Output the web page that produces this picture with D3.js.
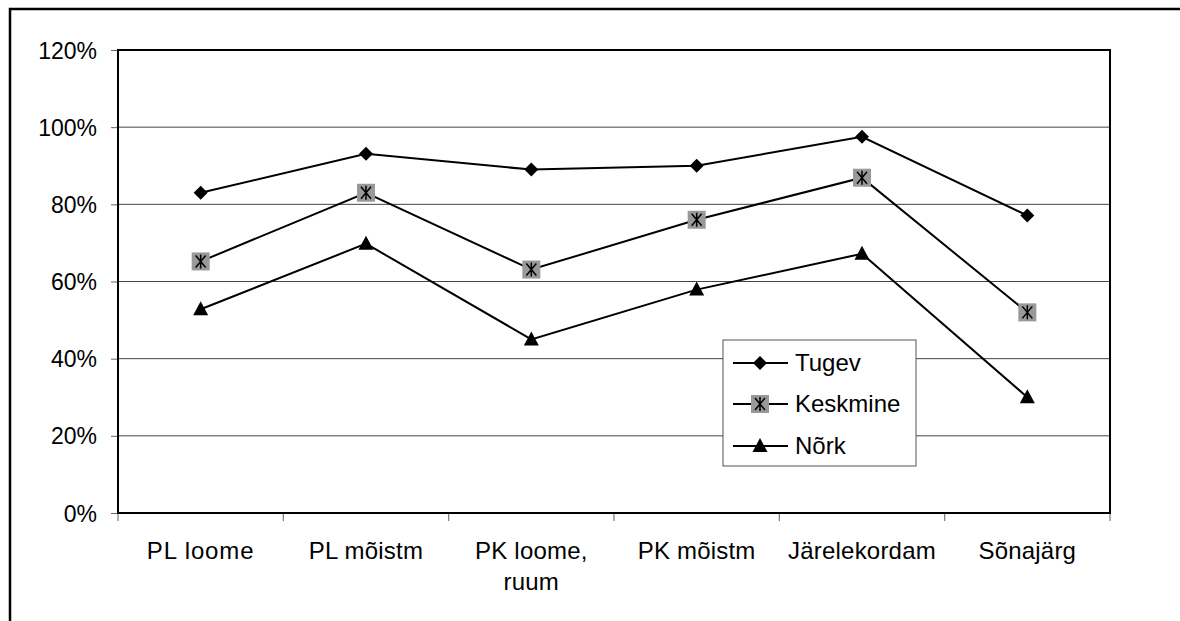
<!DOCTYPE html>
<html><head><meta charset="utf-8">
<script src="https://cdn.jsdelivr.net/npm/d3@7"></script>
<style>body{margin:0;background:#fff}svg{display:block}text{font-family:"Liberation Sans",Arial,sans-serif;fill:#000}</style>
</head><body><svg id="c" width="1180" height="621"></svg>
<script>
const categories = ["PL loome", "PL mõistm", "PK loome, ruum", "PK mõistm", "Järelekordam", "Sõnajärg"];
const categoryLines = [["PL loome"], ["PL mõistm"], ["PK loome,", "ruum"], ["PK mõistm"], ["Järelekordam"], ["Sõnajärg"]];
const seriesNames = ["Tugev", "Keskmine", "Nõrk"];
const tugev = [0.83, 0.931, 0.89, 0.90, 0.975, 0.771];
const keskmine = [0.652, 0.83, 0.631, 0.76, 0.869, 0.52];
const nork = [0.528, 0.698, 0.45, 0.579, 0.672, 0.30];
const yTicks = [0, 0.2, 0.4, 0.6, 0.8, 1.0, 1.2];

const svg = d3.select("#c");
const L = 118, R = 1110, T = 50, B = 513;
const x = d3.scaleBand().domain(categories).range([L, R]);
const y = d3.scaleLinear().domain([0, 1.2]).range([B, T]);
const FS = 23;

// outer border
svg.append("path").attr("d", `M10,621 L10,9 L1180,9`).attr("fill","none").attr("stroke","#000").attr("stroke-width",2.5);

// gridlines
svg.append("g").selectAll("line").data(yTicks.filter(d => d > 0 && d < 1.2)).join("line")
  .attr("x1", L).attr("x2", R).attr("y1", d => y(d)).attr("y2", d => y(d))
  .attr("stroke", "#444").attr("stroke-width", 1);

// y axis
const yAxis = svg.append("g").attr("transform", `translate(${L},0)`)
  .call(d3.axisLeft(y).tickValues(yTicks).tickFormat(d3.format(".0%")).tickSize(7).tickPadding(14));
yAxis.select(".domain").remove();
yAxis.selectAll(".tick line").attr("stroke", "#666").attr("stroke-width", 1);
yAxis.selectAll(".tick text").attr("font-size", FS).attr("font-family", '"Liberation Sans",Arial,sans-serif').attr("dy", "0.35em");

// x axis ticks
const xt = svg.append("g");
const boundaries = categories.map(c => x(c)).concat([R]);
xt.selectAll("line").data(boundaries).join("line")
  .attr("x1", d => d).attr("x2", d => d).attr("y1", B).attr("y2", B + 8)
  .attr("stroke", "#777").attr("stroke-width", 1.2);
// x labels
categoryLines.forEach((lines, i) => {
  const t = svg.append("text").attr("x", x(categories[i]) + x.bandwidth()/2).attr("y", 559)
    .attr("text-anchor", "middle").attr("font-size", 24).attr("letter-spacing", i===0?0.9:0.2);
  lines.forEach((ln, j) => t.append("tspan").attr("x", x(categories[i]) + x.bandwidth()/2).attr("dy", j ? 31 : 0).text(ln));
});

// plot frame
svg.append("path").attr("d", `M${L},${B} L${L},${T} L${R},${T} L${R},${B} Z`).attr("fill","none").attr("stroke","#000").attr("stroke-width",2);

const cx = c => x(c) + x.bandwidth()/2;
const line = d3.line().x((d,i) => cx(categories[i])).y(d => y(d));
const allSeries = [tugev, keskmine, nork];
allSeries.forEach(s => svg.append("path").attr("d", line(s)).attr("fill","none").attr("stroke","#000").attr("stroke-width",2));

function marker(g, type, px, py) {
  if (type === 0) {
    g.append("path").attr("d", `M${px},${py-7} L${px+7},${py} L${px},${py+7} L${px-7},${py} Z`).attr("fill","#000");
  } else if (type === 1) {
    g.append("rect").attr("x", px-9).attr("y", py-9).attr("width", 18).attr("height", 18).attr("fill", "#999");
    g.append("path").attr("d", `M${px-5},${py-6} L${px+5},${py+6} M${px+5},${py-6} L${px-5},${py+6} M${px},${py-7} L${px},${py+7}`)
      .attr("stroke","#000").attr("stroke-width",1.5);
  } else {
    g.append("path").attr("d", `M${px},${py-8} L${px+7.5},${py+6} L${px-7.5},${py+6} Z`).attr("fill","#000");
  }
}
const mg = svg.append("g");
allSeries.forEach((s, k) => s.forEach((v, i) => marker(mg, k, cx(categories[i]), y(v))));

// legend
const lg = svg.append("g");
lg.append("rect").attr("x", 723).attr("y", 340).attr("width", 193).attr("height", 126).attr("fill","#fff").attr("stroke","#555").attr("stroke-width",1);
const ly = [363, 404, 446];
seriesNames.forEach((n, k) => {
  lg.append("line").attr("x1", 733).attr("x2", 788).attr("y1", ly[k]).attr("y2", ly[k]).attr("stroke","#000").attr("stroke-width",2);
  marker(lg, k, 760, ly[k]);
  lg.append("text").attr("x", 795).attr("y", ly[k]).attr("dy","0.35em").attr("font-size", 24).text(n);
});
</script></body></html>
